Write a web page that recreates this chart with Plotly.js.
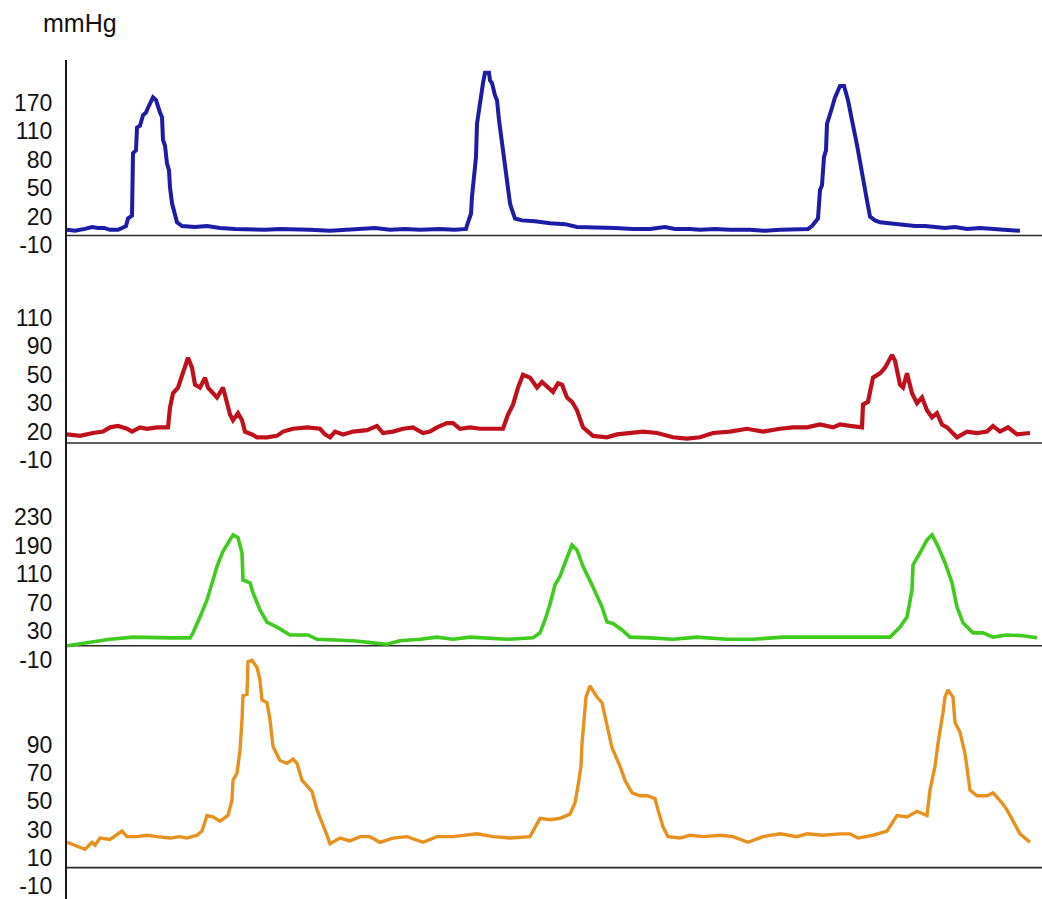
<!DOCTYPE html>
<html>
<head>
<meta charset="utf-8">
<script src="https://cdn.plot.ly/plotly-3.0.1.min.js"></script>
<style>html,body{margin:0;padding:0;background:#fff}#chart{width:1042px;height:899px}</style>
</head>
<body>
<div id="chart"></div>
<script>
// ---------- DATA (time in s, pressure in mmHg, nominal linear scale per channel) ----------
const unitLabel = "mmHg";

const tBlue = [0,0.8,1.8,2.5,3.1,3.7,4.3,5.1,5.5,5.9,6.1,6.5,6.6,6.9,7.0,7.3,7.6,7.9,8.1,8.4,8.6,8.9,9.1,9.3,9.5,9.6,9.8,10.0,10.2,10.3,10.5,10.7,11.0,11.5,12.8,14.0,15.3,16.8,18.3,19.8,21.3,22.8,24.3,26.3,27.8,29.3,30.8,32.3,33.8,35.3,37.3,38.8,39.9,40.1,40.4,40.5,40.8,40.9,41.0,41.2,41.3,41.6,41.8,42.2,42.3,42.5,42.8,43.0,43.2,43.3,43.6,43.8,44.0,44.3,44.5,44.8,45.5,46.0,46.8,48.3,49.8,51.0,52.3,53.3,54.8,56.6,58.3,59.8,60.8,62.3,63.3,64.8,66.3,68.3,69.8,71.3,72.8,74.1,74.5,74.8,75.1,75.3,75.5,75.7,75.9,76.0,76.3,76.5,76.8,77.1,77.3,77.7,77.9,78.1,78.4,78.6,78.9,79.1,79.4,79.6,79.9,80.0,80.3,80.8,81.3,82.3,83.3,84.8,85.8,86.6,87.8,88.8,90.0,91.3,92.8,93.8,95.3];
const pBlue = [6,5,7,9,8,8,6,6,8,10,18,21,87,90,114,116,127,130,135,141,146,143,135,130,125,101,95,76,69,51,34,27,14,10,9,10,8,7,6,6,7,6,6,5,6,7,8,6,7,6,7,6,7,14,23,41,69,83,118,132,146,161,172,172,164,161,148,143,122,114,83,69,58,34,27,18,16,16,15,13,12,9,9,8,8,7,7,9,7,7,6,7,6,6,5,6,6,7,10,14,18,48,53,83,90,118,127,135,146,155,158,158,151,143,127,114,101,90,74,62,43,37,20,16,14,13,11,10,10,9,8,9,7,8,7,7,5];

const tRed = [0,1.3,2.6,3.6,4.3,5.1,6.0,6.5,7.3,8.0,9.0,10.1,10.3,10.6,11.1,11.6,12.1,12.5,12.8,13.3,13.8,14.1,14.6,15.0,15.6,16.0,16.3,16.6,17.1,17.5,17.8,18.5,19.0,20.0,21.0,21.6,22.6,24.0,25.3,25.8,26.3,26.8,27.6,28.6,30.0,31.0,31.6,32.6,33.6,34.6,35.6,36.3,37.0,38.0,38.6,39.3,40.3,41.3,42.6,43.6,44.1,44.6,45.1,45.6,46.3,47.0,47.5,48.1,48.6,49.1,49.5,50.0,50.5,51.0,51.3,51.6,52.6,54.0,55.0,56.3,57.6,59.0,60.6,62.0,63.3,64.6,66.3,68.0,69.6,71.3,72.6,74.0,75.3,76.6,77.3,78.3,79.5,79.6,80.1,80.6,81.3,81.8,82.5,82.8,83.3,83.6,84.0,84.5,85.0,85.5,86.0,86.5,87.0,87.5,88.0,89.0,90.0,91.0,92.0,92.6,93.3,94.1,95.0,96.3];
const pRed = [8,7,9,10,13,14,12,10,13,12,13,13,27,37,41,51,62,55,43,41,48,41,37,34,41,31,22,18,23,18,10,8,6,6,7,10,12,13,12,8,6,10,8,10,11,14,9,10,12,13,9,10,13,16,16,12,13,12,12,12,22,29,41,50,48,41,45,41,38,44,43,34,31,25,18,13,7,6,8,9,10,9,6,5,6,9,10,12,10,12,13,13,15,13,15,14,13,29,31,48,51,55,64,60,43,41,51,37,30,34,25,20,23,15,13,6,10,9,10,14,10,13,8,9];

const tGreen = [0,0.5,2.0,4.3,6.6,8.6,10.6,12.3,12.6,13.3,14.0,14.6,15.0,15.6,16.1,16.6,17.1,17.5,17.6,18.3,18.6,19.3,20.0,21.0,22.3,23.3,24.1,25.0,26.6,28.6,30.6,32.0,33.3,35.3,37.0,38.6,40.3,42.0,44.0,46.6,47.3,47.8,48.3,48.8,49.3,50.0,50.5,51.0,51.6,52.6,53.5,54.0,54.6,55.5,56.3,58.3,60.6,63.0,66.0,68.6,71.6,74.6,77.3,80.3,82.3,83.3,84.0,84.5,84.6,85.3,86.0,86.5,87.1,87.8,88.5,89.0,89.6,90.6,91.6,92.6,94.0,95.6,97.0];
const pGreen = [10,11,15,19,22,21,21,21,28,50,74,102,121,142,154,165,161,140,102,98,84,60,43,36,25,25,25,19,18,17,14,12,17,19,22,19,22,21,19,21,28,46,68,95,107,133,151,144,121,92,64,43,41,32,22,21,19,22,19,19,22,22,22,22,22,36,50,88,123,140,158,165,149,126,98,64,42,28,28,22,25,24,21];

const tOrange = [0,1.0,1.8,2.5,2.8,3.3,4.3,5.5,6.0,7.0,8.0,9.0,10.3,11.3,12.0,13.0,13.5,14.0,14.6,15.3,16.1,16.5,16.6,17.0,17.3,17.5,17.6,18.0,18.1,18.5,19.0,19.3,19.5,20.0,20.3,20.6,21.3,22.0,22.6,23.0,23.5,24.0,24.5,25.0,25.3,26.0,26.3,27.3,28.3,29.3,30.3,31.3,32.6,34.0,35.6,37.0,38.6,41.0,42.6,44.3,46.3,46.8,47.3,48.3,49.3,50.3,50.8,51.1,51.4,51.5,51.7,51.9,52.3,53.0,53.5,54.0,54.5,55.3,55.8,56.5,57.3,58.0,58.8,59.1,59.6,60.1,61.3,62.3,63.6,65.3,66.6,68.1,69.6,71.3,73.0,74.0,75.6,77.3,78.3,79.1,80.6,82.0,82.6,83.0,84.0,85.0,86.0,86.3,86.8,87.1,87.6,87.8,88.1,88.6,88.8,89.3,89.8,90.3,91.0,92.0,92.6,93.5,94.0,94.6,95.3,96.3];
const pOrange = [21,18,16,21,19,24,23,29,25,25,26,25,24,25,24,26,29,40,39,36,40,51,65,70,86,108,125,126,149,150,145,136,122,120,108,89,79,77,80,77,65,61,57,44,39,26,20,24,22,25,25,21,24,25,21,25,25,27,25,24,25,32,38,37,38,41,49,61,75,91,109,124,132,124,120,104,88,75,65,56,54,54,52,44,32,25,24,26,25,26,25,21,25,27,25,27,26,27,27,24,26,29,36,40,39,43,40,58,75,91,113,124,129,124,106,99,84,58,54,54,56,49,44,36,27,21];

// tick values (nominal linear scale) and the labels printed beside them
const tickVals1 = [-10,20,50,80,110,140];   const tickText1 = ["-10","20","50","80","110","170"];
const tickVals2 = [-10,10,30,50,70,90];     const tickText2 = ["-10","20","30","50","90","110"];
const tickVals3 = [-10,30,70,110,150,190];  const tickText3 = ["-10","30","70","110","190","230"];
const tickVals4 = [-10,10,30,50,70,90];     const tickText4 = ["-10","10","30","50","70","90"];
const baselineVals = [0, 2, 10, 3];

// ---------- LAYOUT GEOMETRY ----------
const H = 899, W = 1042;
const FONT = "Liberation Sans, Arial, sans-serif";
// panel: pixel top / bottom of the domain, pixel of the lowest tick, px per unit
const panels = [
  {top:60,  bottom:252, p0:245, k:28.4/30},
  {top:252, bottom:466, p0:460, k:28.4/20},
  {top:466, bottom:662, p0:660, k:28.6/40},
  {top:652, bottom:899, p0:886, k:28.2/20}
];
function valAt(p, px){ return -10 + (p.p0 - px)/p.k; }

const ticks = [[tickVals1,tickText1],[tickVals2,tickText2],[tickVals3,tickText3],[tickVals4,tickText4]];
const colors = ["#1c1ca6","#c0101c","#3fca1e","#e8901c"];
const widths = [4, 4.2, 3.6, 3.4];
const series = [[tBlue,pBlue],[tRed,pRed],[tGreen,pGreen],[tOrange,pOrange]];

const data = series.map((s,i)=>({
  type:"scatter", mode:"lines", x:s[0], y:s[1],
  xaxis:"x", yaxis: i===0 ? "y" : "y"+(i+1),
  line:{color:colors[i], width:widths[i], shape:"linear"},
  hoverinfo:"skip"
}));

const layout = {
  width:W, height:H,
  margin:{l:67, r:0, t:0, b:0, pad:0},
  paper_bgcolor:"#ffffff", plot_bgcolor:"rgba(0,0,0,0)",
  showlegend:false,
  font:{family:FONT, size:23, color:"#111"},
  xaxis:{range:[0,97.5], showgrid:false, zeroline:false, showline:false, showticklabels:false, ticks:"", anchor:"y4", fixedrange:true},
  shapes:[],
  annotations:[{
    text:unitLabel, xref:"paper", yref:"paper", xanchor:"left", yanchor:"middle",
    x:(41-67)/975, y:1-23/H, showarrow:false,
    font:{family:FONT, size:25, color:"#111"}
  }]
};

panels.forEach((p,i)=>{
  const name = i===0 ? "yaxis" : "yaxis"+(i+1);
  layout[name] = {
    domain:[1-p.bottom/H, 1-p.top/H],
    range:[valAt(p,p.bottom), valAt(p,p.top)],
    tickmode:"array", tickvals:ticks[i][0], ticktext:ticks[i][1],
    showgrid:false, zeroline:false, showline:true, linecolor:"#1a1a1a", linewidth:2,
    ticks:"", ticklabelstandoff:8, ticklabeloverflow:"allow", anchor:"x", fixedrange:true,
    tickfont:{family:FONT, size:23, color:"#111"}
  };
  layout.shapes.push({
    type:"line", xref:"paper", x0:0, x1:1,
    yref: i===0 ? "y" : "y"+(i+1), y0:baselineVals[i], y1:baselineVals[i],
    line:{color:"#2a2a2a", width:1.6}, layer:"below"
  });
});

Plotly.newPlot("chart", data, layout, {displayModeBar:false, staticPlot:true});
</script>
</body>
</html>
